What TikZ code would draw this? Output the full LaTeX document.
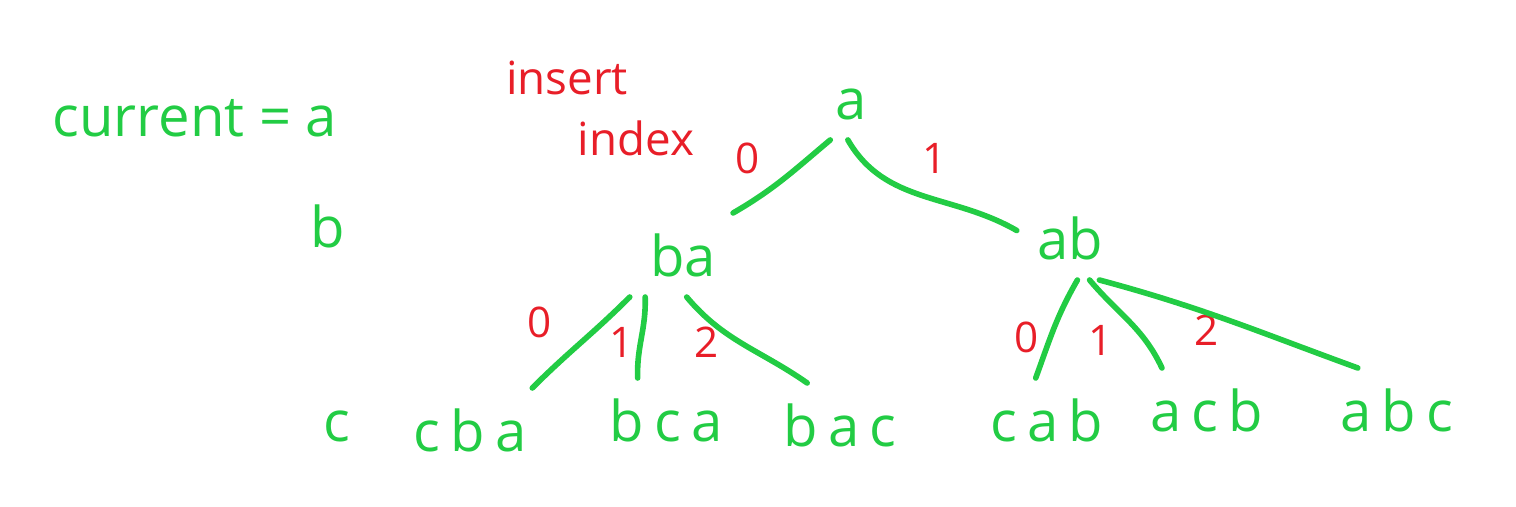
\documentclass[tikz,border=0pt]{standalone}
\usepackage{fontspec}
\setmainfont{Open Sans}
\usetikzlibrary{positioning}

\definecolor{penGreen}{RGB}{34,204,68}
\definecolor{penRed}{RGB}{232,30,40}

\begin{document}
\begin{tikzpicture}[x=0.02cm,y=-0.02cm,line width=3.2pt,line cap=round,
                    penGreen]

  \tikzstyle{word}=[text=penGreen,inner sep=10pt,
                    font=\fontsize{32}{36}\selectfont]
  \tikzstyle{leaf}=[word,font=\fontsize{32}{36}\selectfont\addfontfeature{LetterSpace=18}]
  \tikzstyle{num}=[text=penRed,inner sep=0pt,font=\fontsize{24}{28}\selectfont]
  \tikzstyle{note}=[num,font=\fontsize{26}{30}\selectfont]

  \useasboundingbox (0,0) rectangle (1516,507);

  \node[word] (cur) at (195,118) {current = a};
  \node[word] (b)   at (328,226) {b};
  \node[word] (c)   at (337,426) {c};

  \node[note] (ins) at (567,78)  {insert};
  \node[note] (idx) at (636,138) {index};

  \node[word] (root) at (851,104) {a};
  \node[word] (ba)   at (683,255) {ba};
  \node[word] (ab)   at (1070,238) {ab};

  \node[leaf] (cba) at (470,430) {cba};
  \node[leaf] (bca) at (666,420) {bca};
  \node[leaf] (bac) at (840,425) {bac};
  \node[leaf] (cab) at (1047,420) {cab};
  \node[leaf] (acb) at (1207,410) {acb};
  \node[leaf] (abc) at (1397,410) {abc};

  % insert index on each branch
  \node[num] (r0)  at (748,158)  {0};
  \node[num] (r1)  at (935,158)  {1};
  \node[num] (ba0) at (540,322)  {0};
  \node[num] (ba1) at (622,342)  {1};
  \node[num] (ba2) at (707,342)  {2};
  \node[num] (ab0) at (1027,337) {0};
  \node[num] (ab1) at (1101,340) {1};
  \node[num] (ab2) at (1207,330) {2};

  \draw (root.240) to[out=220,in=30]  (ba.40);
  \draw (root.265) to[out=-60,in=150] (ab.172);

  \draw (ba.south west) to[out=225,in=45]  (cba.34);
  \draw (ba.228)        to[out=272,in=92]  (bca.124);
  \draw (ba.-85)        to[out=-50,in=145] (bac.128);

  \draw (ab.-80) to[out=240,in=70]  (cab.105);
  \draw (ab.-65) to[out=-50,in=115] (acb.137);
  \draw (ab.-55) to[out=-15,in=160] (abc.133);
\end{tikzpicture}
\end{document}
